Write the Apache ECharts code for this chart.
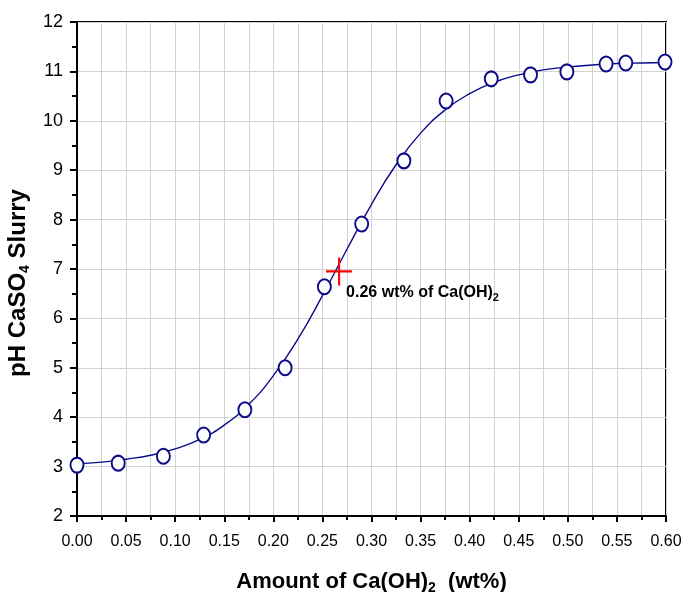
<!DOCTYPE html>
<html>
<head>
<meta charset="utf-8">
<script src="https://cdn.jsdelivr.net/npm/echarts@6/dist/echarts.min.js"></script>
<style>
  html, body { margin: 0; padding: 0; background: #fff; }
  #chart { width: 685px; height: 592px; }
</style>
</head>
<body>
<div id="chart"></div>
<script>
// measured points (wt% Ca(OH)2, pH)
var pointX = [0.000, 0.042, 0.088, 0.129, 0.171, 0.212, 0.252, 0.290, 0.333, 0.376, 0.422, 0.462, 0.499, 0.539, 0.559, 0.599];
var pointY = [3.03, 3.07, 3.21, 3.64, 4.15, 5.00, 6.64, 7.91, 9.19, 10.40, 10.85, 10.93, 10.99, 11.15, 11.17, 11.19];

// fitted curve
var curveX = [0, 0.025, 0.05, 0.075, 0.1, 0.125, 0.15, 0.175, 0.2, 0.225, 0.25, 0.275, 0.3, 0.325, 0.35, 0.375, 0.4, 0.425, 0.45, 0.475, 0.5, 0.525, 0.55, 0.575, 0.6];
var curveY = [3.06, 3.09, 3.15, 3.23, 3.36, 3.55, 3.84, 4.26, 4.84, 5.58, 6.46, 7.40, 8.31, 9.11, 9.75, 10.22, 10.55, 10.78, 10.93, 11.03, 11.09, 11.13, 11.16, 11.17, 11.18];

// inflection mark
var markX = [0.267];
var markY = [6.95];

var navy = '#0b0b8a';
var font = "'Liberation Sans', Arial, sans-serif";

function pairs(xs, ys) {
    var out = [];
    for (var i = 0; i < xs.length; i++) out.push([xs[i], ys[i]]);
    return out;
}

var chart = echarts.init(document.getElementById('chart'));
chart.setOption({
    animation: false,
    grid: {
        left: 77, right: 19, top: 22, bottom: 76,
        containLabel: false,
        outerBoundsMode: 'none',
        show: true,
        borderColor: '#000',
        borderWidth: 2
    },
    xAxis: {
        type: 'value',
        min: 0, max: 0.6, interval: 0.05,
        axisLine: { show: true, onZero: false, lineStyle: { color: '#000', width: 2 } },
        axisTick: { show: true, length: 6, lineStyle: { color: '#000', width: 2 } },
        minorTick: { show: true, splitNumber: 2, length: 4, lineStyle: { color: '#000', width: 2 } },
        splitLine: { show: true, lineStyle: { color: '#d2d2d2', width: 1 } },
        minorSplitLine: { show: true, lineStyle: { color: '#d2d2d2', width: 1 } },
        axisLabel: {
            color: '#000', fontSize: 16, fontFamily: font, margin: 18,
            formatter: function (v) { return v.toFixed(2); }
        },
        name: '{a|Amount of Ca(OH)}{s|2}{a|  (wt%)}',
        nameLocation: 'middle',
        nameGap: 52,
        nameTextStyle: {
            rich: {
                a: { fontSize: 22, fontWeight: 'bold', fontFamily: font, color: '#000' },
                s: { fontSize: 14, fontWeight: 'bold', fontFamily: font, color: '#000', padding: [13, 0, 0, 0] }
            }
        }
    },
    yAxis: {
        type: 'value',
        min: 2, max: 12, interval: 1,
        axisLine: { show: true, onZero: false, lineStyle: { color: '#000', width: 2 } },
        axisTick: { show: true, length: 7, lineStyle: { color: '#000', width: 2 } },
        minorTick: { show: true, splitNumber: 2, length: 5, lineStyle: { color: '#000', width: 2 } },
        splitLine: { show: true, lineStyle: { color: '#d2d2d2', width: 1 } },
        axisLabel: { color: '#000', fontSize: 18, fontFamily: font, margin: 14 },
        name: '{a|pH CaSO}{s|4}{a| Slurry}',
        nameLocation: 'middle',
        nameRotate: 90,
        nameGap: 44,
        nameTextStyle: {
            padding: [0, 28, 0, 0],
            rich: {
                a: { fontSize: 24, fontWeight: 'bold', fontFamily: font, color: '#000' },
                s: { fontSize: 14, fontWeight: 'bold', fontFamily: font, color: '#000', padding: [13, 0, 0, 0] }
            }
        }
    },
    series: [
        {
            type: 'line',
            data: pairs(curveX, curveY),
            smooth: true,
            showSymbol: false,
            lineStyle: { color: navy, width: 1.4 },
            z: 2
        },
        {
            type: 'scatter',
            data: pairs(pointX, pointY),
            symbol: 'emptyCircle',
            symbolSize: [13, 15],
            itemStyle: { color: navy, borderColor: navy, borderWidth: 2.2, opacity: 1 },
            z: 3
        },
        {
            type: 'scatter',
            data: pairs(markX, markY),
            symbol: 'path://M0,4.6H10V5.4H0Z M4.6,0H5.4V10H4.6Z',
            symbolSize: [26, 28],
            itemStyle: { color: '#ff0000', opacity: 1 },
            label: {
                show: true,
                position: 'right',
                offset: [-11, 21],
                formatter: '{a|0.26 wt% of Ca(OH)}{s|2}',
                rich: {
                    a: { fontSize: 16, fontWeight: 'bold', fontFamily: font, color: '#000' },
                    s: { fontSize: 11, fontWeight: 'bold', fontFamily: font, color: '#000', padding: [10, 0, 0, 0] }
                }
            },
            z: 4
        }
    ]
});
</script>
</body>
</html>
